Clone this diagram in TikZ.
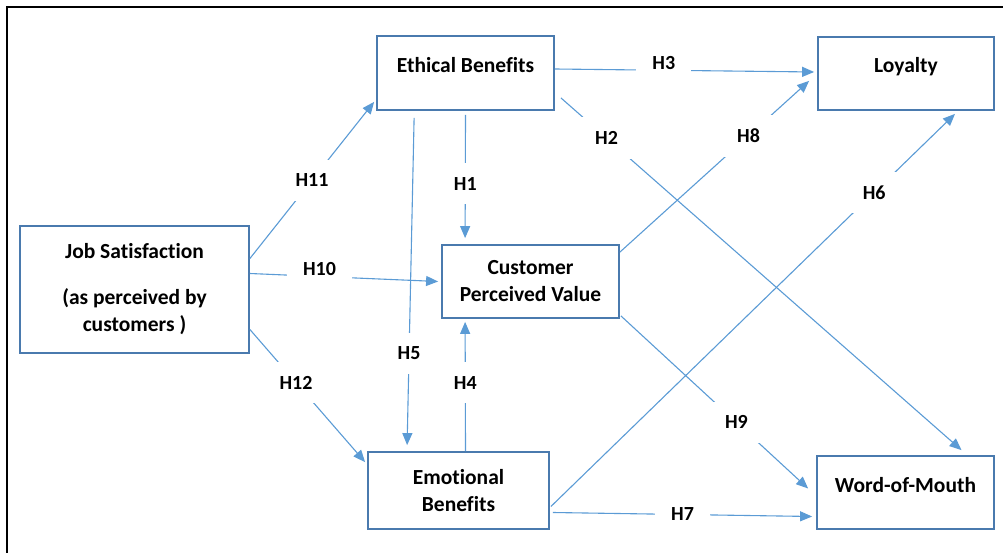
\documentclass[tikz,border=0pt]{standalone}
\usepackage{fontspec}
\setmainfont{Carlito}[Ligatures=NoCommon]
\usetikzlibrary{arrows.meta}
\definecolor{arrowblue}{HTML}{5B9BD5}
\definecolor{boxblue}{HTML}{4A7AAE}

\begin{document}
\begin{tikzpicture}
    [
        x=1pt, y=-1pt,
        box_node/.style={rectangle, draw=boxblue, line width=1.8pt, align=center, inner sep=0pt, font=\fontsize{21.5}{27}\selectfont\bfseries},
        one_line/.style={text height=15pt, text depth=16pt},
        hyp_line/.style={-{Triangle[length=12pt, width=10pt]}, line width=1.1pt, color=arrowblue},
        hyp_label/.style={fill=white, text=black, inner xsep=16pt, inner ysep=14pt, font=\fontsize{20}{24}\selectfont\bfseries},
    ]
        \useasboundingbox (0,0) rectangle (1003,553);
        \draw[line width=2.5pt, color=black] (7,553) -- (7,7) -- (1003,7);
        % constructs
        \node[box_node, minimum width=229pt, minimum height=127pt] (jobsat) at (134.5,289.5) {Job Satisfaction\\[19pt](as perceived by\\customers )};
        \node[box_node, one_line, minimum width=177pt, minimum height=74pt] (ethical) at (465.5,73) {Ethical Benefits};
        \node[box_node, minimum width=177pt, minimum height=73pt] (value) at (530.5,281.5) {Customer\\Perceived Value};
        \node[box_node, minimum width=181pt, minimum height=77pt] (emotional) at (458.5,490.5) {Emotional\\Benefits};
        \node[box_node, one_line, minimum width=176pt, minimum height=73pt] (loyalty) at (906,73.5) {Loyalty};
        \node[box_node, one_line, minimum width=177pt, minimum height=73pt] (wom) at (905.5,492.5) {Word-of-Mouth};
        % hypotheses
        \draw[hyp_line] ([yshift=31pt]jobsat.east) -- node[hyp_label, pos=0.5] {H11} ([xshift=-2pt, yshift=9pt]ethical.south west) ;
        \draw[hyp_line] ([yshift=16pt]jobsat.east) -- node[hyp_label, pos=0.37, yshift=7pt] {H10} ([xshift=-3pt]value.west) ;
        \draw[hyp_line] ([yshift=-40pt]jobsat.east) -- node[hyp_label, pos=0.4] {H12} ([xshift=-2pt, yshift=-11pt]emotional.north west) ;
        \draw[hyp_line] ([yshift=-4pt]ethical.south) -- node[hyp_label, pos=0.56] {H1} ([xshift=24pt, yshift=6pt]value.north west) ;
        \draw[hyp_line] ([xshift=6pt, yshift=13pt]ethical.south east) -- node[hyp_label, pos=0.114] {H2} ([xshift=56pt, yshift=5pt]wom.north) ;
        \draw[hyp_line] ([yshift=4pt]ethical.east) -- node[hyp_label, pos=0.42, yshift=7pt] {H3} ([xshift=-3pt, yshift=1.5pt]loyalty.west) ;
        \draw[hyp_line] ([xshift=7pt]emotional.north) -- node[hyp_label, pos=0.53] {H4} ([xshift=24pt, yshift=-3pt]value.south west) ;
        \draw[hyp_line] ([xshift=38pt, yshift=-7pt]ethical.south west) -- node[hyp_label, pos=0.72] {H5} ([xshift=40pt, yshift=6pt]emotional.north west) ;
        \draw[hyp_line] ([xshift=1pt, yshift=-16pt]emotional.east) -- node[hyp_label, pos=0.8] {H6} ([xshift=49pt, yshift=-3pt]loyalty.south) ;
        \draw[hyp_line] ([xshift=3pt, yshift=-22pt]emotional.east) -- node[hyp_label, pos=0.5] {H7} ([xshift=-4pt, yshift=-24pt]wom.west) ;
        \draw[hyp_line] ([yshift=-8pt]value.north east) -- node[hyp_label, pos=0.68] {H8} ([xshift=-8pt, yshift=30pt]loyalty.south west) ;
        \draw[hyp_line] ([xshift=1pt, yshift=3pt]value.south east) -- node[hyp_label, pos=0.617] {H9} ([xshift=-8pt, yshift=4pt]wom.west) ;
    \end{tikzpicture}
\end{document}
